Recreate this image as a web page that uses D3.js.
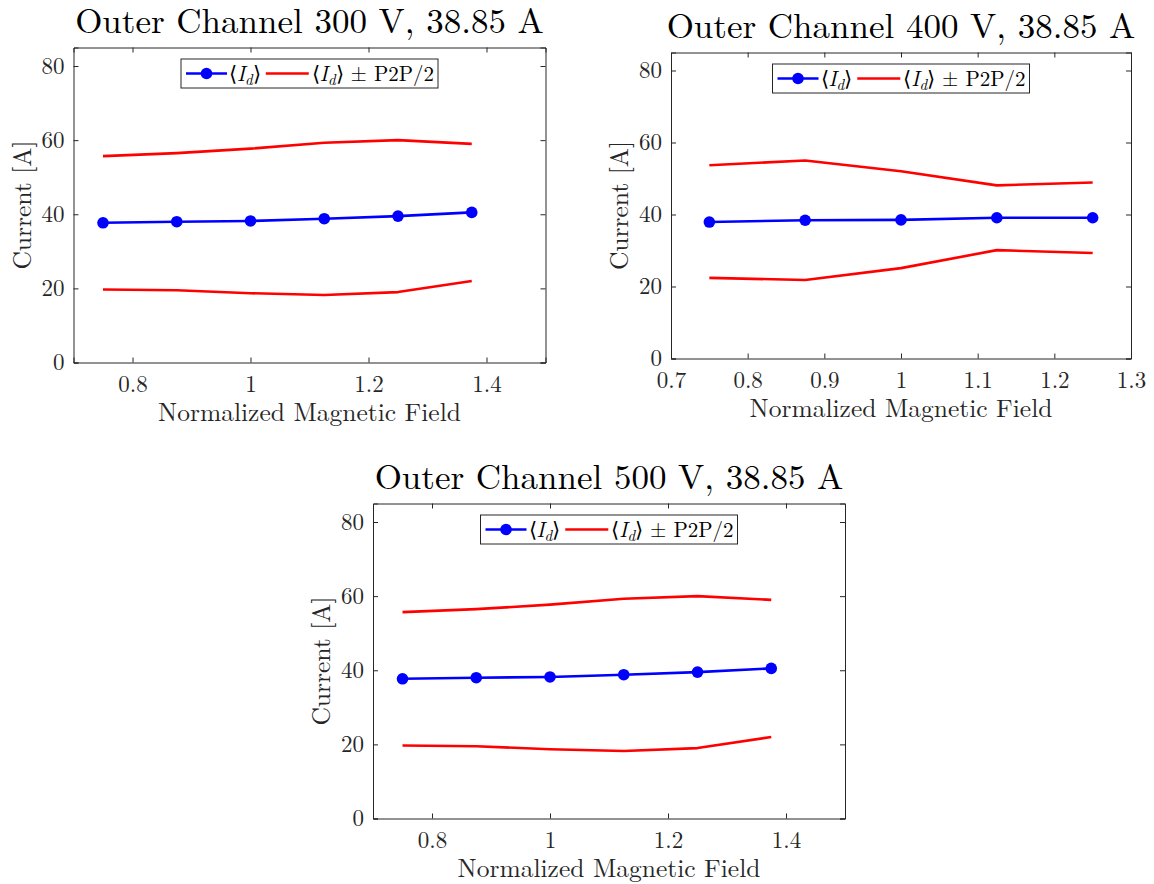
<!DOCTYPE html>
<html>
<head>
<meta charset="utf-8">
<script src="https://cdn.jsdelivr.net/npm/d3@7"></script>
<style>
  body { margin: 0; background: #fff; }
  svg text { font-family: "Latin Modern Roman", "CMU Serif", "Liberation Serif", "Times New Roman", serif; fill: #262626; }
</style>
</head>
<body>
<svg id="chart" width="1154" height="884"></svg>
<script>
// normalized magnetic field settings
const field6 = [0.75, 0.875, 1.0, 1.125, 1.25, 1.375];
const field5 = [0.75, 0.875, 1.0, 1.125, 1.25];

// 300 V
const mean300 = [37.7, 38.0, 38.2, 38.8, 39.5, 40.5];
const upper300 = [55.7, 56.5, 57.7, 59.3, 60.0, 59.0];
const lower300 = [19.7, 19.5, 18.7, 18.2, 19.0, 22.0];

// 400 V
const mean400 = [37.9, 38.4, 38.5, 39.1, 39.1];
const upper400 = [53.7, 55.0, 52.0, 48.1, 48.9];
const lower400 = [22.4, 21.8, 25.1, 30.1, 29.3];

// 500 V
const mean500 = [37.7, 38.0, 38.2, 38.8, 39.5, 40.5];
const upper500 = [55.7, 56.5, 57.7, 59.3, 60.0, 59.0];
const lower500 = [19.7, 19.5, 18.7, 18.2, 19.0, 22.0];

const yTicks = [0, 20, 40, 60, 80];
const xTicksWide = [0.8, 1.0, 1.2, 1.4];
const xTicksNarrow = [0.7, 0.8, 0.9, 1.0, 1.1, 1.2, 1.3];

const titles = ["Outer Channel 300 V, 38.85 A", "Outer Channel 400 V, 38.85 A", "Outer Channel 500 V, 38.85 A"];
const xLabel = "Normalized Magnetic Field";
const yLabel = "Current [A]";

const svg = d3.select("#chart");
const axisColor = "#262626";

const panels = [
  { box: [73.5, 545.5, 47.5, 362.5], xDomain: [0.7, 1.5], xTicks: xTicksWide, x: field6, mean: mean300, upper: upper300, lower: lower300, title: titles[0] },
  { box: [671, 1131, 52.5, 358.5], xDomain: [0.7, 1.3], xTicks: xTicksNarrow, x: field5, mean: mean400, upper: upper400, lower: lower400, title: titles[1] },
  { box: [373, 845, 503.5, 818.5], xDomain: [0.7, 1.5], xTicks: xTicksWide, x: field6, mean: mean500, upper: upper500, lower: lower500, title: titles[2] }
];

const fmt = d => String(+d.toFixed(2));

function drawPanel(p) {
  const [left, right, top, bottom] = p.box;
  const x = d3.scaleLinear().domain(p.xDomain).range([left, right]);
  const y = d3.scaleLinear().domain([0, 85]).range([bottom, top]);
  const g = svg.append("g");

  // axes (ticks inward, mirrored on top/right)
  const tickLen = 5;
  g.append("g").attr("transform", `translate(0,${bottom})`)
    .call(d3.axisBottom(x).tickValues(p.xTicks).tickSize(-tickLen).tickPadding(13).tickFormat(fmt))
    .call(a => a.selectAll("text").attr("font-size", 23).attr("dy", "0.71em"));
  g.append("g").attr("transform", `translate(0,${top})`)
    .call(d3.axisTop(x).tickValues(p.xTicks).tickSize(-tickLen).tickFormat(""));
  g.append("g").attr("transform", `translate(${left},0)`)
    .call(d3.axisLeft(y).tickValues(yTicks).tickSize(-tickLen).tickPadding(9))
    .call(a => a.selectAll("text").attr("font-size", 23));
  g.append("g").attr("transform", `translate(${right},0)`)
    .call(d3.axisRight(y).tickValues(yTicks).tickSize(-tickLen).tickFormat(""));
  g.selectAll(".domain").attr("stroke", axisColor).attr("stroke-width", 1);
  g.selectAll(".tick line").attr("stroke", axisColor).attr("stroke-width", 1);
  g.selectAll(".tick text").attr("fill", axisColor);
  g.selectAll("g").attr("font-family", null);

  // series
  const line = d3.line().x(d => x(d[0])).y(d => y(d[1]));
  [p.upper, p.lower].forEach(vals => {
    g.append("path")
      .datum(d3.zip(p.x, vals))
      .attr("fill", "none")
      .attr("stroke", "#ff0000")
      .attr("stroke-width", 2.6)
      .attr("stroke-linejoin", "round")
      .attr("d", line);
  });
  const meanPts = d3.zip(p.x, p.mean);
  g.append("path")
    .datum(meanPts)
    .attr("fill", "none")
    .attr("stroke", "#0000ff")
    .attr("stroke-width", 2.6)
    .attr("d", line);
  g.selectAll(".pt").data(meanPts).enter().append("circle")
    .attr("cx", d => x(d[0])).attr("cy", d => y(d[1]))
    .attr("r", 5.8).attr("fill", "#0000ff");

  // title
  const cx = (left + right) / 2;
  g.append("text").attr("x", cx).attr("y", top - 15)
    .attr("text-anchor", "middle").attr("font-size", 35)
    .style("fill", "#000")
    .text(p.title);

  // axis labels
  g.append("text").attr("x", cx).attr("y", bottom + 58)
    .attr("text-anchor", "middle").attr("font-size", 25.5)
    .text(xLabel);
  g.append("text")
    .attr("transform", `translate(${left - 43},${(top + bottom) / 2}) rotate(-90)`)
    .attr("text-anchor", "middle").attr("font-size", 25.5)
    .text(yLabel);

  // legend
  const lg = g.append("g");
  const fs = 21;
  const ly = top + 11.5;
  const lh = 29;
  const rect = lg.append("rect").attr("y", ly).attr("height", lh)
    .attr("fill", "#fff").attr("stroke", axisColor).attr("stroke-width", 1);
  const midY = ly + lh / 2;
  lg.append("line").attr("x1", 5).attr("x2", 46).attr("y1", midY).attr("y2", midY)
    .attr("stroke", "#0000ff").attr("stroke-width", 2.6);
  lg.append("circle").attr("cx", 25.5).attr("cy", midY).attr("r", 5.8).attr("fill", "#0000ff");
  const t1 = lg.append("text").attr("x", 48).attr("y", midY + 7).attr("font-size", fs).style("fill", "#000");
  addMeanLabel(t1);
  const w1 = t1.node().getComputedTextLength();
  const cur = 48 + w1 + 5;
  lg.append("line").attr("x1", cur).attr("x2", cur + 43).attr("y1", midY).attr("y2", midY)
    .attr("stroke", "#ff0000").attr("stroke-width", 2.6);
  const t2 = lg.append("text").attr("x", cur + 46).attr("y", midY + 7).attr("font-size", fs).style("fill", "#000");
  addMeanLabel(t2);
  t2.append("tspan").text(" \u00B1 P2P/2");
  const w2 = t2.node().getComputedTextLength();
  const totalW = cur + 46 + w2 + 4;
  rect.attr("x", 0).attr("width", totalW);
  lg.attr("transform", `translate(${cx - totalW / 2},0)`);
}

function addMeanLabel(t) {
  t.append("tspan").text("\u27E8");
  t.append("tspan").attr("font-style", "italic").text("I");
  t.append("tspan").attr("font-style", "italic").attr("font-size", 15).attr("dy", 4).text("d");
  t.append("tspan").attr("dy", -4).text("\u27E9");
}

panels.forEach(drawPanel);
</script>
</body>
</html>
